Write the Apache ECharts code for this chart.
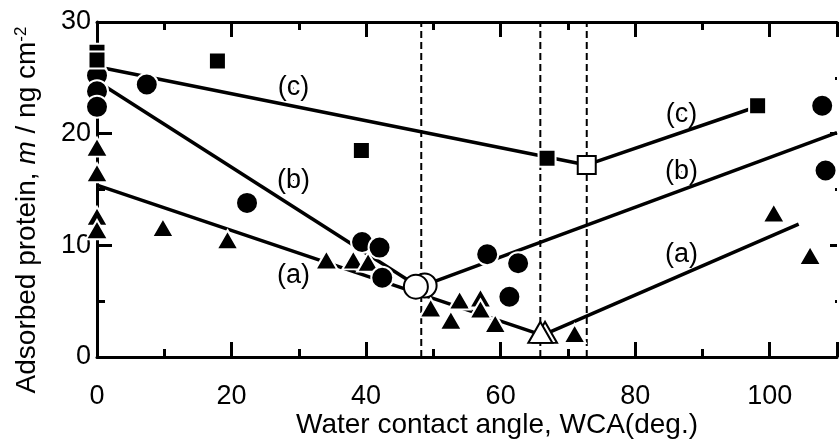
<!DOCTYPE html>
<html>
<head>
<meta charset="utf-8">
<script src="https://cdn.jsdelivr.net/npm/echarts@6/dist/echarts.min.js"></script>
<style>
	html, body { margin: 0; padding: 0; background: #fff; }
	#main { width: 840px; height: 445px; }
</style>
</head>
<body>
<div id="main"></div>
<script>
//数据：[WCA, 吸附量]
var triangleData = [[0, 18.8], [0, 16.5], [0, 12.6], [0, 11.4], [9.8, 11.6], [19.4, 10.5], [34.1, 8.7], [38.1, 8.7], [40.3, 8.5],
	[49.6, 4.4], [52.6, 3.3], [53.9, 5.1], [57, 5.3], [57, 4.3], [59.2, 3.0], [71, 2.1], [100.6, 12.9], [106, 9.1]]
var circleData = [[0, 25.2], [0, 23.8], [0, 22.4], [7.4, 24.4], [22.3, 13.8], [39.4, 10.3], [42, 9.8], [42.4, 7.1],
	[58, 9.2], [62.6, 8.4], [61.3, 5.4], [107.8, 22.5], [108.3, 16.7]]
var squareData = [[0, 27.3], [0, 26.6], [17.9, 26.5], [39.3, 18.5], [66.9, 17.8], [98.2, 22.5]]
var openTriangle = [[66.6, 2.2], [65.9, 2.2]]
var openCircle = [[48.7, 6.4], [47.4, 6.3]]
var openSquare = [[72.8, 17.2]]
//拟合直线
var lineA = [[[0, 15.4], [65.5, 2.1]], [[67.2, 2.2], [104.3, 11.9]]]
var lineB = [[[0, 24.7], [47.5, 6.4]], [[48.5, 6.4], [110, 20.1]]]
var lineC = [[[0, 26.0], [72.8, 17.2]], [[72.8, 17.2], [97.5, 22.3]]]
var dashX = [48.2, 65.9, 72.8]
var curveLabels = [['(a)', 29.2, 7.3], ['(b)', 29.2, 15.8], ['(c)', 29.2, 24.1],
	['(a)', 86.9, 9.2], ['(b)', 86.9, 16.6], ['(c)', 86.9, 21.7]]
var xMin = 0, xMax = 110, yMin = 0, yMax = 30

var font = 'Liberation Sans, Arial, sans-serif'
var myChart = echarts.init(document.getElementById('main'), null, { renderer: 'canvas' })

function axisStyle(pos, showLabel, isX) {
	return {
		type: 'value',
		position: pos,
		min: isX ? xMin : yMin,
		max: isX ? xMax : yMax,
		interval: isX ? 20 : 10,
		axisLine: { show: true, onZero: false, lineStyle: { color: '#000', width: 3 } },
		axisTick: { show: true, inside: true, length: 15, lineStyle: { color: '#000', width: 3 } },
		minorTick: { show: true, splitNumber: 2, length: 8, lineStyle: { color: '#000', width: 3 } },
		splitLine: { show: false },
		axisLabel: {
			show: showLabel,
			color: '#000',
			fontFamily: font,
			fontSize: 27,
			margin: isX ? 26 : 6,
			formatter: function (v) {
				if (isX && v > 100) return ''
				return v
			}
		}
	}
}
//右侧轴被裁掉，只留下一点刻度
var rightAxis = axisStyle('right', false, false)
rightAxis.axisLine.show = false
rightAxis.axisTick.length = 7
rightAxis.minorTick.length = 2

var series = []
//虚线
for (var i = 0; i < dashX.length; i++) {
	series.push({
		type: 'line',
		data: [[dashX[i], yMin], [dashX[i], yMax]],
		symbol: 'none',
		lineStyle: { color: '#000', width: 2, type: [7, 4] },
		z: 1
	})
}
//实线
var allLines = lineA.concat(lineB).concat(lineC)
for (var i = 0; i < allLines.length; i++) {
	series.push({
		type: 'line',
		data: allLines[i],
		symbol: 'none',
		lineStyle: { color: '#000', width: 3.5 },
		z: 2
	})
}
function marks(data, symbol, size, fill, border, bw, z) {
	return {
		type: 'scatter',
		data: data,
		symbol: symbol,
		symbolSize: size,
		itemStyle: { color: fill, borderColor: border, borderWidth: bw, opacity: 1 },
		z: z
	}
}
series.push(marks(triangleData, 'triangle', [22, 19], '#000', '#fff', 2, 3))
series.push(marks(circleData, 'circle', 22, '#000', '#fff', 2, 4))
series.push(marks(squareData, 'rect', 17, '#000', '#fff', 2, 5))
series.push(marks(openTriangle, 'triangle', [24, 21], '#fff', '#000', 2, 6))
series.push(marks(openCircle, 'circle', 24, '#fff', '#000', 2, 6))
series.push(marks(openSquare, 'rect', 18, '#fff', '#000', 2, 6))
//(a)(b)(c)标注
series.push({
	type: 'scatter',
	symbolSize: 1,
	itemStyle: { color: '#000', opacity: 1 },
	data: curveLabels.map(function (d) { return { name: d[0], value: [d[1], d[2]] } }),
	label: {
		show: true,
		position: 'inside',
		formatter: '{b}',
		color: '#000',
		opacity: 1,
		textBorderWidth: 0,
		fontFamily: font,
		fontSize: 27
	},
	z: 7
})

var option = {
	animation: false,
	backgroundColor: '#fff',
	grid: { left: 97, top: 22, width: 744, height: 335 },
	xAxis: [axisStyle('bottom', true, true), axisStyle('top', false, true)],
	yAxis: [axisStyle('left', true, false), rightAxis],
	graphic: [
		{
			type: 'text',
			x: 497, y: 425,
			style: { text: 'Water contact angle, WCA(deg.)', fill: '#000', font: '28px ' + font, align: 'center', verticalAlign: 'middle' }
		},
		{
			type: 'text',
			x: 27, y: 210,
			rotation: Math.PI / 2,
			style: {
				text: 'Adsorbed protein, {i|m} / ng cm{s|-2}',
				fill: '#000',
				font: '28px ' + font,
				align: 'center',
				verticalAlign: 'middle',
				rich: {
					i: { fontStyle: 'italic', fontSize: 28, fontFamily: font, fill: '#000' },
					s: { fontSize: 17, fontFamily: font, fill: '#000', verticalAlign: 'top', padding: [0, 0, 12, 0] }
				}
			}
		}
	],
	series: series
}
myChart.setOption(option, true)
</script>
</body>
</html>
